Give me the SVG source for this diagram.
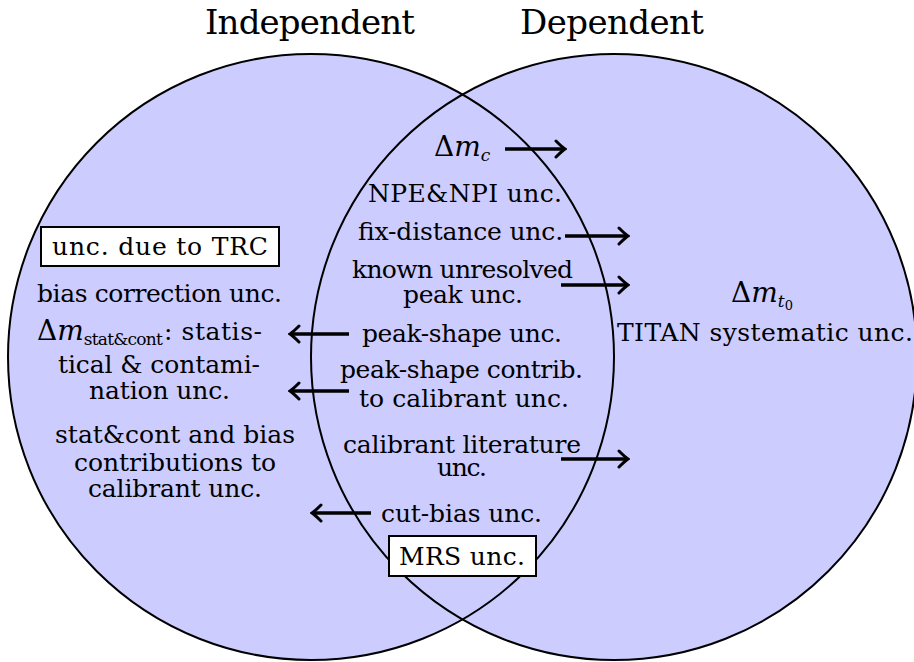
<svg xmlns="http://www.w3.org/2000/svg" width="914" height="662" viewBox="0 0 914 662">
<style>
text{font-family:"DejaVu Serif","Liberation Serif",serif;font-size:25px;fill:#000;text-anchor:middle}
.title{font-size:34px}
.st{text-anchor:start}
.it{font-style:italic}
.big{font-size:28px}
.sub{font-size:17px}
.circ{fill:none;stroke:#000;stroke-width:2}
.box{fill:#fff;stroke:#000;stroke-width:2}
.arr{fill:none;stroke:#000;stroke-width:3.4;marker-end:url(#ah)}
</style>
<defs>
<marker id="ah" markerUnits="userSpaceOnUse" viewBox="-12 -10 14 20" refX="0" refY="0" markerWidth="14" markerHeight="20" orient="auto">
<path d="M-9,-8 Q-3,-2 0,0 Q-3,2 -9,8" fill="none" stroke="#000" stroke-width="3" stroke-linecap="round"/>
</marker>
</defs>
<rect width="914" height="662" fill="#fff"/>
<g id="fills">
<circle cx="311" cy="357" r="303" fill="#ccccff"/>
<circle cx="614" cy="357" r="303" fill="#ccccff"/>
</g>
<g id="outlines">
<circle class="circ" cx="311" cy="357" r="303"/>
<circle class="circ" cx="614" cy="357" r="303"/>
</g>
<g id="titles">
<text class="title" x="310" y="34" textLength="210">Independent</text>
<text class="title" x="612" y="34" textLength="184">Dependent</text>
</g>
<g id="connectors">
<path class="arr" d="M505,149 H565"/>
<path class="arr" d="M565,236 H628"/>
<path class="arr" d="M561,285 H628"/>
<path class="arr" d="M349,334 H290"/>
<path class="arr" d="M349,391 H290"/>
<path class="arr" d="M561,459 H628"/>
<path class="arr" d="M371,513 H312"/>
</g>
<g id="independent">
<g id="trc">
<rect class="box" x="41" y="227" width="238" height="39"/>
<text x="160" y="255" textLength="216">unc. due to TRC</text>
</g>
<g id="bias"><text x="159.5" y="302" textLength="245">bias correction unc.</text></g>
<g id="statcont">
<text class="st" x="37" y="340"><tspan class="big">Δ</tspan><tspan class="it big">m</tspan><tspan class="sub" dy="5" textLength="79">stat&amp;cont</tspan><tspan dy="-5" dx="2" textLength="98">: statis-</tspan></text>
<text x="159" y="373" textLength="202">tical &amp; contami-</text>
<text x="159.5" y="399" textLength="141">nation unc.</text>
</g>
<g id="statcontcal">
<text x="175" y="443" textLength="240">stat&amp;cont and bias</text>
<text x="175" y="471" textLength="202">contributions to</text>
<text x="175" y="497" textLength="174">calibrant unc.</text>
</g>
</g>
<g id="middle">
<g id="dmc"><text class="st" x="434" y="156"><tspan class="big">Δ</tspan><tspan class="it big">m</tspan><tspan class="it sub" dy="5">c</tspan></text></g>
<g id="npe"><text x="465" y="202" textLength="194">NPE&amp;NPI unc.</text></g>
<g id="fix"><text x="460.5" y="240" textLength="205">fix-distance unc.</text></g>
<g id="known">
<text x="462.5" y="278" textLength="221">known unresolved</text>
<text x="463" y="303" textLength="120">peak unc.</text>
</g>
<g id="peakshape"><text x="462" y="342" textLength="200">peak-shape unc.</text></g>
<g id="peakcontrib">
<text x="461.5" y="378" textLength="243">peak-shape contrib.</text>
<text x="464" y="407" textLength="210">to calibrant unc.</text>
</g>
<g id="callit">
<text x="462" y="453" textLength="238">calibrant literature</text>
<text x="462" y="476" textLength="50">unc.</text>
</g>
<g id="cutbias"><text x="461.5" y="522" textLength="161">cut-bias unc.</text></g>
<g id="mrs">
<rect class="box" x="389" y="536" width="147" height="40"/>
<text x="462" y="565" textLength="126">MRS unc.</text>
</g>
</g>
<g id="dependent">
<g id="dmt0"><text class="st" x="731" y="302"><tspan class="big">Δ</tspan><tspan class="it big">m</tspan><tspan class="it sub" dy="5">t</tspan><tspan style="font-size:13px" dy="3">0</tspan></text></g>
<g id="titan"><text x="765" y="341" textLength="296">TITAN systematic unc.</text></g>
</g>
</svg>
